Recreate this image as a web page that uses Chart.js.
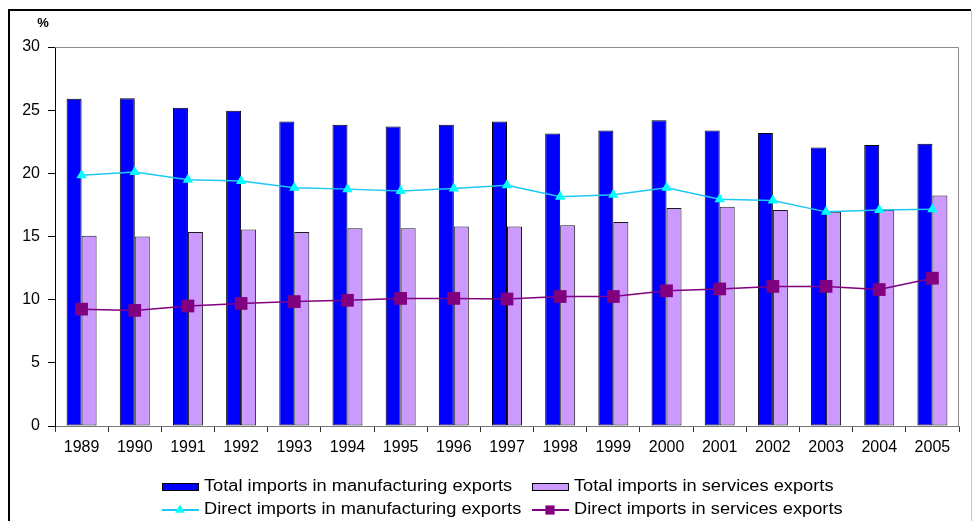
<!DOCTYPE html>
<html>
<head>
<meta charset="utf-8">
<script src="https://cdn.jsdelivr.net/npm/chart.js@4.4.0/dist/chart.umd.min.js"></script>
<style>
  html, body { margin: 0; padding: 0; background: #fff; }
  #wrap { width: 972px; height: 521px; }
</style>
</head>
<body>
<div id="wrap"><canvas id="chart" width="972" height="521"></canvas></div>
<script>
// Import content of exports, %
const years = ['1989', '1990', '1991', '1992', '1993', '1994', '1995', '1996', '1997',
    '1998', '1999', '2000', '2001', '2002', '2003', '2004', '2005'];
const totalManufacturing = [25.9, 25.95, 25.2, 24.95, 24.1, 23.85, 23.7, 23.85, 24.1,
    23.15, 23.4, 24.2, 23.4, 23.2, 22.05, 22.25, 22.35];
const totalServices = [15.05, 15.0, 15.35, 15.55, 15.35, 15.65, 15.65, 15.8, 15.8,
    15.9, 16.15, 17.25, 17.35, 17.1, 16.95, 17.1, 18.25];
const directManufacturing = [19.85, 20.1, 19.5, 19.4, 18.85, 18.75, 18.6, 18.8, 19.05,
    18.15, 18.3, 18.85, 17.95, 17.85, 16.95, 17.1, 17.15];
const directServices = [9.25, 9.15, 9.5, 9.7, 9.85, 9.95, 10.1, 10.1, 10.05,
    10.25, 10.25, 10.7, 10.85, 11.05, 11.05, 10.8, 11.7];

const FONT = "'Liberation Sans', Arial, sans-serif";

// outer frame + plot area border
const framePlugin = {
    id: 'frame',
    beforeDraw(chart) {
        const ctx = chart.ctx;
        ctx.save();
        ctx.fillStyle = '#fff';
        ctx.fillRect(0, 0, chart.width, chart.height);
        ctx.strokeStyle = '#000';
        ctx.lineWidth = 2;
        ctx.beginPath();
        ctx.moveTo(9, chart.height);
        ctx.lineTo(9, 10);
        ctx.lineTo(971, 10);
        ctx.stroke();
        ctx.strokeStyle = '#c8c8c8';
        ctx.lineWidth = 1;
        ctx.beginPath();
        ctx.moveTo(971.5, 11);
        ctx.lineTo(971.5, chart.height);
        ctx.stroke();
        ctx.restore();
    },
    beforeDatasetsDraw(chart) {
        const { ctx, chartArea: a } = chart;
        ctx.save();
        ctx.strokeStyle = '#8c8c8c';
        ctx.lineWidth = 1;
        ctx.beginPath();
        ctx.moveTo(a.left, a.top + 0.5);
        ctx.lineTo(a.right - 0.5, a.top + 0.5);
        ctx.lineTo(a.right - 0.5, a.bottom);
        ctx.stroke();
        ctx.restore();
    },
    afterDraw(chart) {
        const ctx = chart.ctx;
        ctx.save();
        ctx.fillStyle = '#000';
        ctx.font = 'bold 13px ' + FONT;
        ctx.textAlign = 'center';
        ctx.textBaseline = 'middle';
        ctx.fillText('%', 43, 23);
        ctx.restore();
    }
};

// two-column legend under the axis (text a bit wide, like the original)
const gridLegend = {
    id: 'gridLegend',
    afterDraw(chart) {
        const ctx = chart.ctx;
        const cols = [162, 532];
        const rows = [487, 510];
        const stretch = 1.14;
        ctx.save();
        ctx.font = '16px ' + FONT;
        ctx.textBaseline = 'middle';
        ctx.textAlign = 'left';
        chart.data.datasets.forEach((ds, i) => {
            const x = cols[i % 2];
            const y = rows[Math.floor(i / 2)];
            if (ds.type === 'line') {
                ctx.strokeStyle = ds.borderColor;
                ctx.lineWidth = 2;
                ctx.beginPath();
                ctx.moveTo(x, y);
                ctx.lineTo(x + 37, y);
                ctx.stroke();
                ctx.fillStyle = ds.pointBackgroundColor;
                Chart.helpers.drawPoint(ctx, {
                    pointStyle: ds.pointStyle,
                    radius: ds.pointStyle === 'rect' ? 6.5 : 5.5,
                    rotation: 0,
                    borderWidth: 0
                }, x + 18, y);
            } else {
                ctx.fillStyle = ds.backgroundColor;
                ctx.fillRect(x, y - 3.5, 37, 7);
                ctx.strokeStyle = '#000';
                ctx.lineWidth = 1;
                ctx.strokeRect(x + 0.5, y - 3.5, 36, 7);
            }
            ctx.fillStyle = '#000';
            ctx.save();
            ctx.translate(x + 42, y);
            ctx.scale(stretch, 1);
            ctx.fillText(ds.label, 0, 0);
            ctx.restore();
        });
        ctx.restore();
    }
};

new Chart(document.getElementById('chart'), {
    type: 'bar',
    data: {
        labels: years,
        datasets: [
            {
                label: 'Total imports in manufacturing exports',
                data: totalManufacturing,
                backgroundColor: '#0000ff',
                borderColor: '#000',
                borderWidth: 1,
                borderSkipped: false,
                order: 2
            },
            {
                label: 'Total imports in services exports',
                data: totalServices,
                backgroundColor: '#cc99ff',
                borderColor: '#1a1a1a',
                borderWidth: 1,
                borderSkipped: false,
                order: 2
            },
            {
                type: 'line',
                label: 'Direct imports in manufacturing exports',
                data: directManufacturing,
                borderColor: '#1ec8f5',
                borderWidth: 1.5,
                pointStyle: 'triangle',
                pointRadius: 6,
                pointBackgroundColor: '#00ffff',
                pointBorderColor: '#00ffff',
                pointBorderWidth: 0,
                tension: 0,
                order: 1
            },
            {
                type: 'line',
                label: 'Direct imports in services exports',
                data: directServices,
                borderColor: '#800080',
                borderWidth: 1.5,
                pointStyle: 'rect',
                pointRadius: 9,
                pointBackgroundColor: '#800080',
                pointBorderColor: '#800080',
                pointBorderWidth: 0,
                tension: 0,
                order: 1
            }
        ]
    },
    options: {
        responsive: false,
        animation: false,
        devicePixelRatio: 1,
        layout: { padding: { left: 8, right: 13, top: 47, bottom: 0 } },
        datasets: {
            bar: { categoryPercentage: 0.564, barPercentage: 1 }
        },
        plugins: {
            legend: { display: false },
            tooltip: { enabled: false }
        },
        scales: {
            x: {
                grid: { drawOnChartArea: false, drawTicks: true, tickLength: 6, color: '#333', offset: true },
                border: { color: '#777', width: 1 },
                ticks: { color: '#000', font: { family: FONT, size: 16 }, padding: 6, maxRotation: 0 },
                afterFit(scale) { scale.height = 95; }
            },
            y: {
                min: 0,
                max: 30,
                ticks: { stepSize: 5, color: '#000', font: { family: FONT, size: 16 }, padding: 8 },
                grid: { drawOnChartArea: false, drawTicks: true, tickLength: 7, color: '#000' },
                border: { color: '#000', width: 1 },
                afterFit(scale) { scale.width = 47; }
            }
        }
    },
    plugins: [framePlugin, gridLegend]
});
</script>
</body>
</html>
